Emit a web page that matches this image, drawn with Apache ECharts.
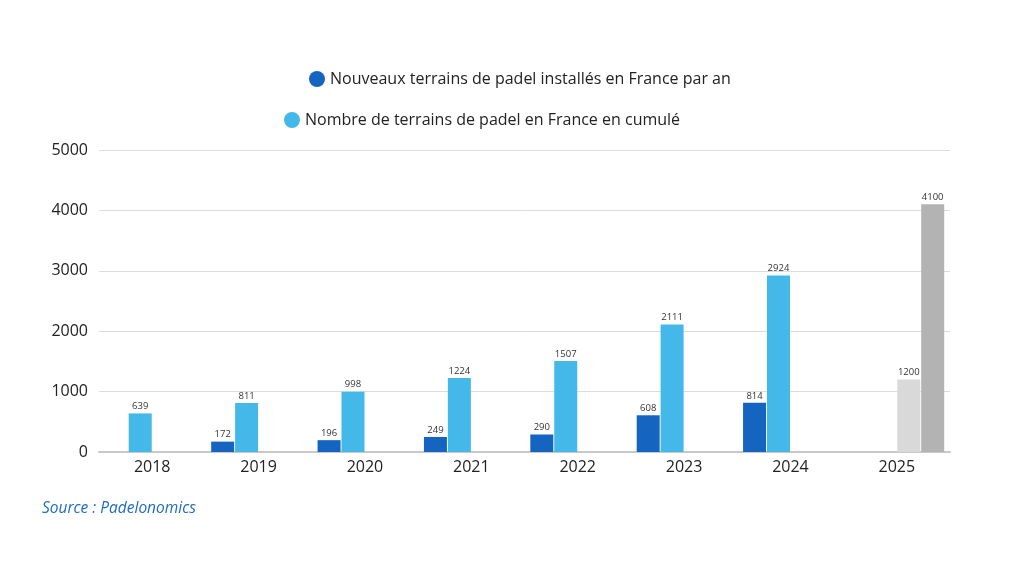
<!DOCTYPE html>
<html>
<head>
<meta charset="utf-8">
<script src="https://cdn.jsdelivr.net/npm/echarts@6/dist/echarts.min.js"></script>
<style>
html,body{margin:0;padding:0;background:#fff;}
#c{width:1024px;height:576px;}
</style>
</head>
<body>
<div id="c"></div>
<script>
const categories = ['2018','2019','2020','2021','2022','2023','2024','2025'];
const newCourts = [null,172,196,249,290,608,814,null];
const cumulCourts = [639,811,998,1224,1507,2111,2924,null];
const forecastNew = [null,null,null,null,null,null,null,1200];
const forecastCumul = [null,null,null,null,null,null,null,4100];
const yTicks = [0,1000,2000,3000,4000,5000];
const seriesNames = ['Nouveaux terrains de padel installés en France par an','Nombre de terrains de padel en France en cumulé'];

const FONT = '"Open Sans", "Noto Sans", sans-serif';
const chart = echarts.init(document.getElementById('c'));
const lbl = {show:true, position:'top', distance:2, fontSize:9.5, color:'#333', fontFamily:FONT};
function bar(name, data, color){
  return {name, type:'bar', data, barWidth:23, barGap:'4%',
    itemStyle:{color}, label:lbl, emphasis:{disabled:true}};
}
chart.setOption({
  animation:false,
  textStyle:{fontFamily:FONT},
  legend:[
    {data:[seriesNames[0]], left:304, top:66, icon:'circle', itemWidth:16, itemHeight:16, itemGap:5,
     textStyle:{fontSize:16, color:'#222', fontFamily:FONT}, selectedMode:false},
    {data:[seriesNames[1]], left:279, top:107, icon:'circle', itemWidth:16, itemHeight:16, itemGap:5,
     textStyle:{fontSize:16, color:'#222', fontFamily:FONT}, selectedMode:false}
  ],
  graphic:[{type:'text', left:42, top:501, style:{text:'Source : Padelonomics', fontSize:15.5, fontStyle:'italic', fill:'#1f6ac6', fontFamily:FONT}}],
  grid:{left:99, right:74, top:150, bottom:124},
  xAxis:{type:'category', data:categories,
    axisLine:{lineStyle:{color:'#c8c8c8', width:2}}, axisTick:{show:false},
    axisLabel:{fontSize:16, color:'#222', margin:7, fontFamily:FONT}},
  yAxis:{type:'value', min:yTicks[0], max:yTicks[yTicks.length-1], interval:1000,
    axisLabel:{fontSize:16, color:'#222', margin:11, fontFamily:FONT, formatter:v=>String(v)},
    splitLine:{lineStyle:{color:'#dcdcdc', width:1}}},
  series:[
    bar(seriesNames[0], newCourts, '#1565c0'),
    bar(seriesNames[1], cumulCourts, '#45b8ea'),
    bar('Prévision nouveaux 2025', forecastNew, '#d9d9d9'),
    bar('Prévision cumul 2025', forecastCumul, '#b3b3b3')
  ]
});
</script>
</body>
</html>
